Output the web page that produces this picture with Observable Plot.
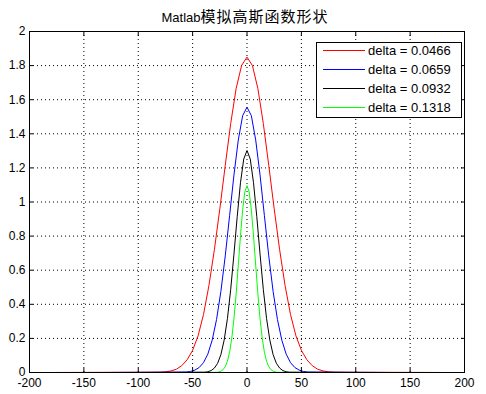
<!DOCTYPE html>
<html><head><meta charset="utf-8">
<script src="https://cdn.jsdelivr.net/npm/d3@7"></script>
<script src="https://cdn.jsdelivr.net/npm/@observablehq/plot@0.6"></script>
<style>
body{margin:0;background:#fff;}
#wrap{position:relative;width:486px;height:394px;font-family:"Liberation Sans",Arial,sans-serif;color:#000;}
#title{position:absolute;left:2px;width:486px;top:6px;text-align:center;white-space:nowrap;line-height:20px;}
#title .lat{font-size:13px;font-family:"Liberation Sans",Arial,sans-serif;}
#title .cjk{font-size:15px;letter-spacing:1px;font-family:"Noto Sans CJK SC",sans-serif;}
#legend{position:absolute;left:0;top:0;}
</style></head>
<body>
<div id="wrap">
  <div id="chart"></div>
  <div id="title"><span class="lat">Matlab</span><span class="cjk">模拟高斯函数形状</span></div>
  <svg id="legend" width="486" height="130"></svg>
</div>
<script>
const seriesLabels = ["delta = 0.0466", "delta = 0.0659", "delta = 0.0932", "delta = 0.1318"];
const seriesColors = ["#ff0000", "#0000ff", "#000000", "#00ff00"];

const redX = [-185,-80,-75,-70,-65,-60,-55,-50,-45,-40,-35,-30,-25,-20,-15,-10,-5,0,5,10,15,20,25,30,35,40,45,50,55,60,65,70,75,80,185];
const redY = [0,0.002,0.004,0.009,0.019,0.04,0.075,0.13,0.215,0.34,0.51,0.72,0.96,1.215,1.46,1.665,1.80,1.85,1.80,1.665,1.46,1.215,0.96,0.72,0.51,0.34,0.215,0.13,0.075,0.04,0.019,0.009,0.004,0.002,0];

const blueX = [-132,-56,-52,-48,-44,-40,-36,-32,-28,-24,-20,-16,-12,-8,-4,0,4,8,12,16,20,24,28,32,36,40,44,48,52,56,132];
const blueY = [0,0.0025,0.006,0.014,0.029,0.058,0.108,0.19,0.311,0.476,0.684,0.92,1.158,1.364,1.506,1.556,1.506,1.364,1.158,0.92,0.684,0.476,0.311,0.19,0.108,0.058,0.029,0.014,0.006,0.0025,0];

const blackX = [-92,-39,-36,-33,-30,-27,-24,-21,-18,-15,-12,-9,-6,-3,0,3,6,9,12,15,18,21,24,27,30,33,36,39,92];
const blackY = [0,0.002,0.0045,0.011,0.026,0.054,0.105,0.19,0.316,0.487,0.694,0.914,1.113,1.252,1.302,1.252,1.113,0.914,0.694,0.487,0.316,0.19,0.105,0.054,0.026,0.011,0.0045,0.002,0];

const greenX = [-66,-28,-26,-24,-22,-20,-18,-16,-14,-12,-10,-8,-6,-4,-2,0,2,4,6,8,10,12,14,16,18,20,22,24,26,28,66];
const greenY = [0,0.001,0.003,0.0075,0.017,0.034,0.066,0.119,0.201,0.315,0.461,0.63,0.802,0.954,1.059,1.096,1.059,0.954,0.802,0.63,0.461,0.315,0.201,0.119,0.066,0.034,0.017,0.0075,0.003,0.001,0];

const xTicks = [-200,-150,-100,-50,0,50,100,150,200];
const xTickLabels = ["-200","-150","-100","-50","0","50","100","150","200"];
const yTicks = [0,0.2,0.4,0.6,0.8,1,1.2,1.4,1.6,1.8,2];
const yTickLabels = ["0","0.2","0.4","0.6","0.8","1","1.2","1.4","1.6","1.8","2"];

const allX = [redX, blueX, blackX, greenX];
const allY = [redY, blueY, blackY, greenY];
const tables = allX.map((xs, s) => xs.map((x, i) => ({x, y: allY[s][i], series: seriesLabels[s]})));

const grid = {stroke: "#000", strokeOpacity: 1, strokeDasharray: "1,3", strokeWidth: 1};

const plot = Plot.plot({
  width: 486, height: 394,
  marginLeft: 29, marginRight: 22, marginTop: 31, marginBottom: 22,
  x: {domain: [-200, 200]},
  y: {domain: [0, 2]},
  color: {domain: seriesLabels, range: seriesColors},
  style: {fontFamily: "'Liberation Sans', Arial, sans-serif", fontSize: "12px", color: "#000", background: "#fff"},
  marks: [
    Plot.gridX({...grid, ticks: xTicks}),
    Plot.gridY({...grid, ticks: yTicks}),
    ...tables.map(t => Plot.line(t, {x: "x", y: "y", stroke: "series", strokeWidth: 1})),
    Plot.frame({stroke: "#000", strokeWidth: 1}),
    Plot.axisX({anchor: "bottom", ticks: xTicks, tickSize: -4, tickPadding: 10, tickFormat: (d, i) => xTickLabels[i], label: null, fontSize: 12}),
    Plot.axisX({anchor: "top", ticks: xTicks, tickSize: -4, tickFormat: () => "", label: null}),
    Plot.axisY({anchor: "left", ticks: yTicks, tickSize: -4, tickPadding: 8, tickFormat: (d, i) => yTickLabels[i], label: null, fontSize: 12}),
    Plot.axisY({anchor: "right", ticks: yTicks, tickSize: -4, tickFormat: () => "", label: null})
  ]
});
document.getElementById("chart").appendChild(plot);

// legend box (layout only)
const lg = d3.select("#legend");
lg.append("rect").attr("x", 316.5).attr("y", 42.5).attr("width", 145).attr("height", 75)
  .attr("fill", "#fff").attr("stroke", "#000").attr("stroke-width", 1);
seriesLabels.forEach((lab, i) => {
  const cy = 50.5 + i * 19;
  lg.append("line").attr("x1", 323).attr("x2", 365).attr("y1", cy).attr("y2", cy)
    .attr("stroke", seriesColors[i]).attr("stroke-width", 1);
  lg.append("text").attr("x", 368).attr("y", cy).attr("dy", "0.35em")
    .attr("font-size", 13).attr("font-family", "'Liberation Sans', Arial, sans-serif")
    .attr("fill", "#000").text(lab);
});
</script>
</body></html>
